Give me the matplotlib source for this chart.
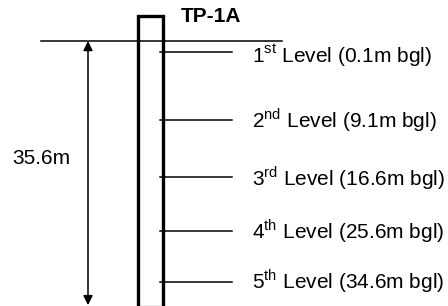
import matplotlib.pyplot as plt
import matplotlib.transforms as mtransforms
from matplotlib.patches import FancyArrowPatch

plt.rcParams['font.family'] = 'Liberation Sans'
plt.rcParams['mathtext.fontset'] = 'custom'
plt.rcParams['mathtext.rm'] = 'Liberation Sans'

# schematic data (depth axis in metres below ground)
well_name = 'TP-1A'
total_depth = 35.6
level_names = ['1$^{\\mathrm{st}}$', '2$^{\\mathrm{nd}}$', '3$^{\\mathrm{rd}}$', '4$^{\\mathrm{th}}$', '5$^{\\mathrm{th}}$']
level_depths = [0.1, 9.1, 16.6, 25.6, 34.6]
# where each level is drawn on the (not to scale) sketch
level_sketch_depth = [1.44, 10.65, 18.37, 25.61, 32.44]
label_sketch_depth = [1.89, 10.65, 18.53, 25.61, 32.41]

px_per_m = 7.42
ground_px = 41

fig = plt.figure(figsize=(4.48, 3.06), dpi=100)
ax = fig.add_axes([0, 0, 1, 1])
ax.set_xlim(0, 448)
ax.set_ylim((306 - ground_px) / px_per_m, -ground_px / px_per_m)
ax.axis('off')

# ground line
ax.plot([41, 282], [0, 0], color='black', lw=1.1)

# pipe
pipe_top = -25 / px_per_m
pipe_bot = 35.78
ax.plot([137.5, 162.5], [pipe_bot, pipe_bot], color='#999999', lw=1.0)
ax.plot([137.5, 137.5, 162.5, 162.5], [pipe_bot, pipe_top, pipe_top, pipe_bot], color='black', lw=2.4,
        solid_joinstyle='miter')

# depth arrow
arr = FancyArrowPatch((88, 0), (88, total_depth), arrowstyle='<|-|>', mutation_scale=14,
                      color='black', lw=1.1, shrinkA=0, shrinkB=0)
ax.add_patch(arr)
ax.text(12.5, 15.84, f'{total_depth}m', fontsize=15, va='center', ha='left')

ax.text(181, -3.33, well_name, fontsize=15, fontweight='bold', va='center', ha='left')

# move text so the digit (not the superscript) sits centred on the level
shift = ax.transData + mtransforms.ScaledTranslation(0, -7.5 / 100, fig.dpi_scale_trans)
for name, d, ys, yl in zip(level_names, level_depths, level_sketch_depth, label_sketch_depth):
    ax.plot([160, 232], [ys, ys], color='black', lw=1.1)
    ax.text(252, yl, f'{name} Level ({d}m bgl)', fontsize=15, va='baseline', ha='left',
            transform=shift)

fig.savefig('out.png', dpi=100)
